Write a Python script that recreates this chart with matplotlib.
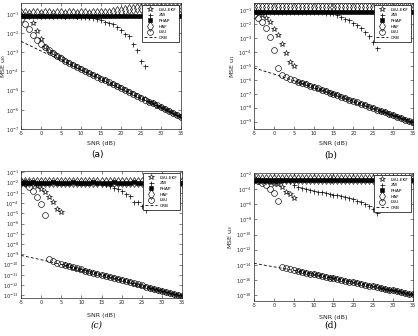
import numpy as np
import matplotlib
matplotlib.use("Agg")
import matplotlib.pyplot as plt
from matplotlib.ticker import FixedLocator, NullLocator, FixedFormatter

# ---------------- data (log10 of MSE) ----------------
snr = list(range(-5, 36))
snr_crb = [-5, 0, 5, 10, 15, 20, 25, 30, 35]
series_names = ["LSU-EKF", "ZW", "PHAP", "HAF", "LSU", "CRB"]
panel_tags = ["(a)", "(b)", "(c)", "(d)"]
y_labels = ["MSE u$_0$", "MSE u$_1$", "MSE u$_2$", "MSE u$_3$"]
x_ticks = [-5, 0, 5, 10, 15, 20, 25, 30, 35]

# panel (a)
lsuekf_a = [-1.05, -1.08, -1.12, -1.48, -1.88, -2.29, -2.70, -2.91,
            -3.04, -3.18, -3.31, -3.44, -3.55, -3.64, -3.77, -3.86, -3.98, -4.06,
            -4.18, -4.26, -4.38, -4.46, -4.58, -4.66, -4.78, -4.86, -4.98, -5.06,
            -5.18, -5.26, -5.38, -5.46, -5.58, -5.66, -5.78, -5.86, -5.98, -6.06,
            -6.18, -6.26, -6.38]
zw_a = [-1.08, -1.09, -1.08, -1.10, -1.09, -1.08, -1.10, -1.09, -1.08, -1.10,
        -1.09, -1.10, -1.11, -1.12, -1.13, -1.14, -1.15, -1.17,
        -1.20, -1.26, -1.34, -1.41, -1.48, -1.53, -1.66, -1.83, -2.05, -2.13,
        -2.57, -2.86, -3.47, -3.72,
        -5.56, -5.66, -5.76, -5.86, -5.96, -6.06, -6.16, -6.26, -6.36]
phap_a = [-1.10, -1.11, -1.10, -1.09, -1.10, -1.11, -1.10, -1.10, -1.09, -1.10,
          -1.11, -1.10, -1.10, -1.09, -1.10, -1.11, -1.10, -1.10, -1.09, -1.10,
          -1.11, -1.10, -1.10, -1.09, -1.10, -1.11, -1.10, -1.10, -1.09, -1.10,
          -1.11, -1.10, -1.10, -1.09, -1.10, -1.11, -1.10, -1.10, -1.09, -1.10,
          -1.10]
haf_a = [-0.97, -0.96, -0.98, -0.97, -0.96, -0.98, -0.97, -0.96, -0.98, -0.97,
         -0.96, -0.98, -0.97, -0.96, -0.98, -0.97, -0.96, -0.98, -0.97, -0.96,
         -0.97,
         -0.95, -0.93, -0.90, -0.87, -0.84, -0.80, -0.76, -0.72, -0.70,
         -0.69, -0.68, -0.68, -0.69, -0.68, -0.68, -0.69, -0.68, -0.68, -0.69,
         -0.70]
lsu_a = [-1.27, -1.52, -1.80, -2.12, -2.38, -2.58,
         -2.75, -2.89, -3.03, -3.17, -3.32, -3.43, -3.54, -3.65, -3.76, -3.87,
         -3.97, -4.07, -4.17, -4.27, -4.37, -4.47, -4.57, -4.67, -4.77, -4.87,
         -4.97, -5.07, -5.17, -5.27, -5.37, -5.47, -5.57, -5.67, -5.77, -5.87,
         -5.97, -6.07, -6.17, -6.27, -6.37]
crb_a = [-2.43, -2.93, -3.42, -3.92, -4.42, -4.91, -5.41, -5.90, -6.40]

# panel (b)
lsuekf_b = [-1.10, -1.15, -1.30, -1.55, -1.84, -2.34, -2.75, -3.40, -4.07, -4.71, -5.02,
            -6.13, -6.22, -6.32, -6.42, -6.52, -6.62, -6.72, -6.82, -6.92, -7.02,
            -7.12, -7.22, -7.32, -7.42, -7.52, -7.63, -7.73, -7.83, -7.93, -8.03,
            -8.14, -8.24, -8.34, -8.45, -8.55, -8.65, -8.76, -8.86, -8.97, -9.07]
zw_b = [-1.14, -1.15, -1.13, -1.14, -1.15, -1.14, -1.13, -1.14, -1.15, -1.14,
        -1.13, -1.14, -1.15, -1.14, -1.13, -1.14, -1.14, -1.15, -1.16, -1.18,
        -1.22, -1.30, -1.48, -1.62, -1.72, -1.91, -2.05, -2.27, -2.58, -2.87,
        -3.30, -3.70,
        -8.22, -8.32, -8.43, -8.53, -8.63, -8.74, -8.84, -8.95, -9.05]
phap_b = [-1.14, -1.15, -1.14, -1.13, -1.14, -1.15, -1.14, -1.14, -1.13, -1.14,
          -1.15, -1.14, -1.14, -1.13, -1.14, -1.15, -1.14, -1.14, -1.13, -1.14,
          -1.15, -1.14, -1.14, -1.13, -1.14, -1.15, -1.14, -1.14, -1.13, -1.14,
          -1.15, -1.14, -1.14, -1.13, -1.14, -1.15, -1.14, -1.14, -1.13, -1.14,
          -1.14]
haf_b = [-0.76, -0.75, -0.77, -0.76, -0.75, -0.77, -0.76, -0.75, -0.77, -0.76,
         -0.75, -0.77, -0.76, -0.75, -0.77, -0.76, -0.75, -0.77, -0.76, -0.75,
         -0.77, -0.76, -0.75, -0.77, -0.76, -0.75, -0.77, -0.76, -0.75, -0.77,
         -0.76, -0.75, -0.77, -0.76, -0.75, -0.77, -0.76, -0.75, -0.77, -0.76,
         -0.76]
lsu_b = [-1.31, -1.55, -1.85, -2.29, -2.94, -3.87, -5.14, -5.62, -5.79, -5.93,
         -6.03, -6.12, -6.21, -6.31, -6.41, -6.51, -6.61, -6.71, -6.81, -6.91,
         -7.01, -7.11, -7.21, -7.31, -7.41, -7.51, -7.62, -7.72, -7.82, -7.92,
         -8.02, -8.13, -8.23, -8.33, -8.44, -8.54, -8.64, -8.75, -8.85, -8.96,
         -9.06]
crb_b = [-5.14, -5.58, -6.05, -6.53, -7.03, -7.53, -8.04, -8.56, -9.08]

# panel (c)
lsuekf_c = [-1.96, -1.98, -1.99, -2.07, -2.30, -2.62, -2.95, -3.37, -3.85, -4.57, -4.83,
            -10.07, -10.17, -10.28, -10.38, -10.48, -10.59, -10.69, -10.80, -10.90, -11.00,
            -11.11, -11.21, -11.32, -11.42, -11.52, -11.63, -11.73, -11.84, -11.94, -12.04,
            -12.15, -12.25, -12.36, -12.46, -12.56, -12.67, -12.77, -12.88, -12.98, -13.08]
zw_c = [-1.97, -1.98, -1.96, -1.97, -1.98, -1.96, -1.97, -1.98, -1.96, -1.97,
        -1.98, -1.96, -1.97, -1.98, -1.96, -1.97, -1.98, -1.96, -1.97, -1.98,
        -2.02,
        -2.17, -2.30, -2.49, -2.62, -2.82, -3.08, -3.27, -3.85, -3.92, -4.30, -4.70,
        -12.25, -12.36, -12.46, -12.56, -12.66, -12.77, -12.88, -12.98, -13.08]
phap_c = [-2.00, -2.01, -2.00, -1.99, -2.00, -2.01, -2.00, -2.00, -1.99, -2.00,
          -2.01, -2.00, -2.00, -1.99, -2.00, -2.01, -2.00, -2.00, -1.99, -2.00,
          -2.01, -2.00, -2.00, -1.99, -2.00, -2.01, -2.00, -2.00, -1.99, -2.00,
          -2.01, -2.00, -2.00, -1.99, -2.00, -2.01, -2.00, -2.00, -1.99, -2.00,
          -2.00]
haf_c = [-1.93, -1.92, -1.94, -1.93, -1.92, -1.94, -1.93, -1.92, -1.94, -1.93,
         -1.92, -1.94, -1.93, -1.92, -1.94, -1.93, -1.92, -1.94, -1.93, -1.92,
         -1.94, -1.93, -1.92, -1.94, -1.93, -1.92, -1.94, -1.93, -1.92, -1.94,
         -1.93, -1.92, -1.94, -1.93, -1.92, -1.94, -1.93, -1.92, -1.94, -1.93,
         -1.93]
lsu_c = [-1.95, -2.07, -2.40, -2.80, -3.37, -4.10, -5.15, -9.43, -9.69, -9.82,
         -9.96, -10.06, -10.16, -10.27, -10.37, -10.47, -10.58, -10.68, -10.79, -10.89,
         -10.99, -11.10, -11.20, -11.31, -11.41, -11.51, -11.62, -11.72, -11.83, -11.93,
         -12.03, -12.14, -12.24, -12.35, -12.45, -12.55, -12.66, -12.76, -12.87, -12.97,
         -13.07]
crb_c = [-9.10, -9.52, -9.98, -10.48, -11.00, -11.52, -12.04, -12.56, -13.08]

# panel (d)
lsuekf_d = [-2.75, -2.80, -2.85, -2.95, -3.05, -3.25, -3.33, -3.64, -4.30, -4.65, -5.10,
            -14.86, -14.96, -15.07, -15.17, -15.28, -15.39, -15.49, -15.60, -15.70, -15.81,
            -15.92, -16.02, -16.13, -16.23, -16.34, -16.45, -16.55, -16.66, -16.76, -16.87,
            -16.98, -17.08, -17.19, -17.29, -17.40, -17.51, -17.61, -17.72, -17.82, -17.93]
zw_d = [-2.75, -2.76, -2.74, -2.75, -2.76, -2.74, -2.75, -2.76, -2.78, -2.90,
        -3.50, -3.75, -3.90, -4.00, -4.10, -4.20, -4.30, -4.40, -4.50, -4.60,
        -4.70, -4.80, -4.92, -5.05, -5.20, -5.35, -5.50, -5.72, -5.98, -6.25,
        -6.65, -7.10,
        -17.07, -17.18, -17.28, -17.39, -17.50, -17.60, -17.71, -17.81, -17.92]
phap_d = [-2.80, -2.81, -2.80, -2.79, -2.80, -2.81, -2.80, -2.80, -2.79, -2.80,
          -2.81, -2.80, -2.80, -2.79, -2.80, -2.81, -2.80, -2.80, -2.79, -2.80,
          -2.81, -2.80, -2.80, -2.79, -2.80, -2.81, -2.80, -2.80, -2.79, -2.80,
          -2.81, -2.80, -2.80, -2.79, -2.80, -2.81, -2.80, -2.80, -2.79, -2.80,
          -2.80]
haf_d = [-2.70, -2.69, -2.71, -2.70, -2.69, -2.71, -2.70, -2.69, -2.71, -2.70,
         -2.69, -2.71, -2.70, -2.69, -2.71, -2.70, -2.69, -2.71, -2.70, -2.69,
         -2.71, -2.70, -2.69, -2.71, -2.70, -2.69, -2.71, -2.70, -2.69, -2.71,
         -2.70, -2.69, -2.71, -2.70, -2.69, -2.71, -2.70, -2.69, -2.71, -2.70,
         -2.70]
lsu_d = [-2.75, -2.85, -3.19, -3.50, -3.95, -4.52, -5.50, -14.35, -14.48, -14.60,
         -14.74, -14.85, -14.95, -15.06, -15.16, -15.27, -15.38, -15.48, -15.59, -15.69,
         -15.80, -15.91, -16.01, -16.12, -16.22, -16.33, -16.44, -16.54, -16.65, -16.75,
         -16.86, -16.97, -17.07, -17.18, -17.28, -17.39, -17.50, -17.60, -17.71, -17.81,
         -17.92]
crb_d = [-13.81, -14.27, -14.74, -15.27, -15.80, -16.33, -16.86, -17.39, -17.92]

panels = [
    (lsuekf_a, zw_a, phap_a, haf_a, lsu_a, crb_a),
    (lsuekf_b, zw_b, phap_b, haf_b, lsu_b, crb_b),
    (lsuekf_c, zw_c, phap_c, haf_c, lsu_c, crb_c),
    (lsuekf_d, zw_d, phap_d, haf_d, lsu_d, crb_d),
]
y_tick_exps = [list(range(-7, 0)), list(range(-9, 0)), list(range(-13, 0)),
               list(range(-18, -1, 2))]
y_limits = [(-7.0, -0.43), (-9.53, -0.47), (-13.25, -0.87), (-18.8, -1.85)]

# ---------------- layout ----------------
W, H = 418, 336
fig = plt.figure(figsize=(W / 100, H / 100), dpi=100)

def rect(l, r, t, b):
    return [l / W, 1 - b / H, (r - l) / W, (b - t) / H]

axes_rects = [rect(21, 181, 3, 129), rect(254, 413, 3, 129),
              rect(21, 182, 171, 298), rect(254, 413, 173, 301)]
ylabel_x = [-0.082, -0.11, -0.118, -0.122]
xlabel_y = [-0.095, -0.095, -0.12, -0.11]
tag_pos = [(97, 155), (331, 155), (97, 325), (331, 325)]
tag_style = [dict(family="DejaVu Sans", style="normal"),
             dict(family="DejaVu Serif", style="normal"),
             dict(family="DejaVu Serif", style="italic"),
             dict(family="DejaVu Serif", style="normal")]

axis_col = "#262626"

for i, (data, rct) in enumerate(zip(panels, axes_rects)):
    ekf, zw, phap, haf, lsu, crb = data
    for s in (ekf, zw, phap, haf, lsu):
        assert len(s) == len(snr), (i, len(s))
    ax = fig.add_axes(rct)
    ax.set_yscale("log")
    ax.plot(snr, 10.0 ** np.array(ekf), linestyle="none", marker="*", ms=4.2,
            mfc="none", mec="black", mew=0.45, label=series_names[0])
    ax.plot(snr, 10.0 ** np.array(zw), linestyle="none", marker="+", ms=3.6,
            mec="black", mew=0.5, label=series_names[1])
    ax.plot(snr, 10.0 ** np.array(phap), linestyle="none", marker="s", ms=2.3,
            mec="black", mfc="black", mew=0.4, label=series_names[2])
    ax.plot(snr, 10.0 ** np.array(haf), linestyle="none", marker="d", ms=5.0,
            mfc="none", mec="black", mew=0.45, label=series_names[3])
    ax.plot(snr, 10.0 ** np.array(lsu), linestyle="none", marker="o", ms=4.2,
            mfc="none", mec="black", mew=0.45, label=series_names[4])
    ax.plot(snr_crb, 10.0 ** np.array(crb), linestyle=(0, (3.5, 2.5)), color="black",
            lw=0.6, label=series_names[5])

    ax.set_xlim(-5, 35)
    lo, hi = y_limits[i]
    ax.set_ylim(10.0 ** lo, 10.0 ** hi)
    ax.xaxis.set_major_locator(FixedLocator(x_ticks))
    ax.set_xticklabels([str(t) for t in x_ticks])
    exps = y_tick_exps[i]
    ax.yaxis.set_major_locator(FixedLocator([10.0 ** e for e in exps]))
    ax.yaxis.set_major_formatter(FixedFormatter(["$10^{%d}$" % e for e in exps]))
    ax.yaxis.set_minor_locator(NullLocator())
    ax.xaxis.set_minor_locator(NullLocator())
    ax.tick_params(which="both", direction="in", top=True, right=True, length=2,
                   width=0.4, colors=axis_col, labelsize=3.6, pad=1.5)
    for sp in ax.spines.values():
        sp.set_linewidth(0.5)
        sp.set_color(axis_col)
    ax.set_xlabel("SNR (dB)", fontsize=4.6, color=axis_col)
    ax.set_ylabel(y_labels[i], fontsize=4.6, color=axis_col)
    ax.xaxis.set_label_coords(0.5, xlabel_y[i])
    ax.yaxis.set_label_coords(ylabel_x[i], 0.5)

    leg = ax.legend(loc="upper right", fontsize=3.2, frameon=True, fancybox=False,
                    framealpha=1, edgecolor="black", borderaxespad=0.5,
                    handlelength=2.6, handletextpad=0.6, labelspacing=0.35,
                    borderpad=0.5)
    leg.get_frame().set_linewidth(0.5)

    tx, ty = tag_pos[i]
    fig.text(tx / W, 1 - ty / H, panel_tags[i], ha="center", va="center",
             fontsize=6.5, color="black", **tag_style[i])

fig.savefig("out.png", dpi=100)
